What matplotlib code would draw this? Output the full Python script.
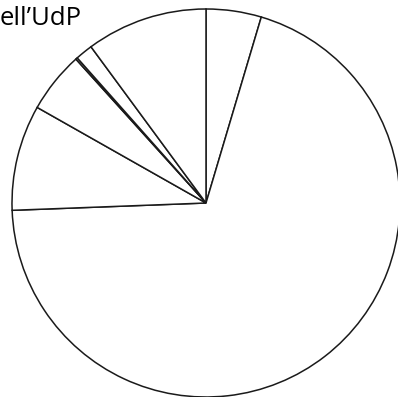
import matplotlib
matplotlib.use("Agg")
import matplotlib.pyplot as plt

# Slice shares, clockwise from 12 o'clock (percent)
labels = ["A", "B", "C", "D", "E", "F", "G"]
values = [4.6, 69.8, 8.8, 5.1, 0.15, 1.45, 10.1]
title_text = "ell\u2019UdP"

W, H = 398, 397
fig = plt.figure(figsize=(W / 100, H / 100), dpi=100)
cx, cy, r = 206, 203, 194
ax = fig.add_axes([(cx - r) / W, (H - cy - r) / H, 2 * r / W, 2 * r / H])
wedges, _ = ax.pie(values, startangle=90, counterclock=False,
                   colors=["white"] * len(values),
                   wedgeprops=dict(edgecolor="#1a1a1a", linewidth=1.1))
for w in wedges:
    w.set_clip_on(False)
ax.set_xlim(-1, 1)
ax.set_ylim(-1, 1)
ax.set_aspect("auto")
ax.axis("off")

fig.text(0.0 / W, 1 - 25 / H, title_text, fontsize=18.5, family="Open Sans",
         ha="left", va="baseline", color="black")

fig.savefig("out.png", dpi=100, facecolor="white")
